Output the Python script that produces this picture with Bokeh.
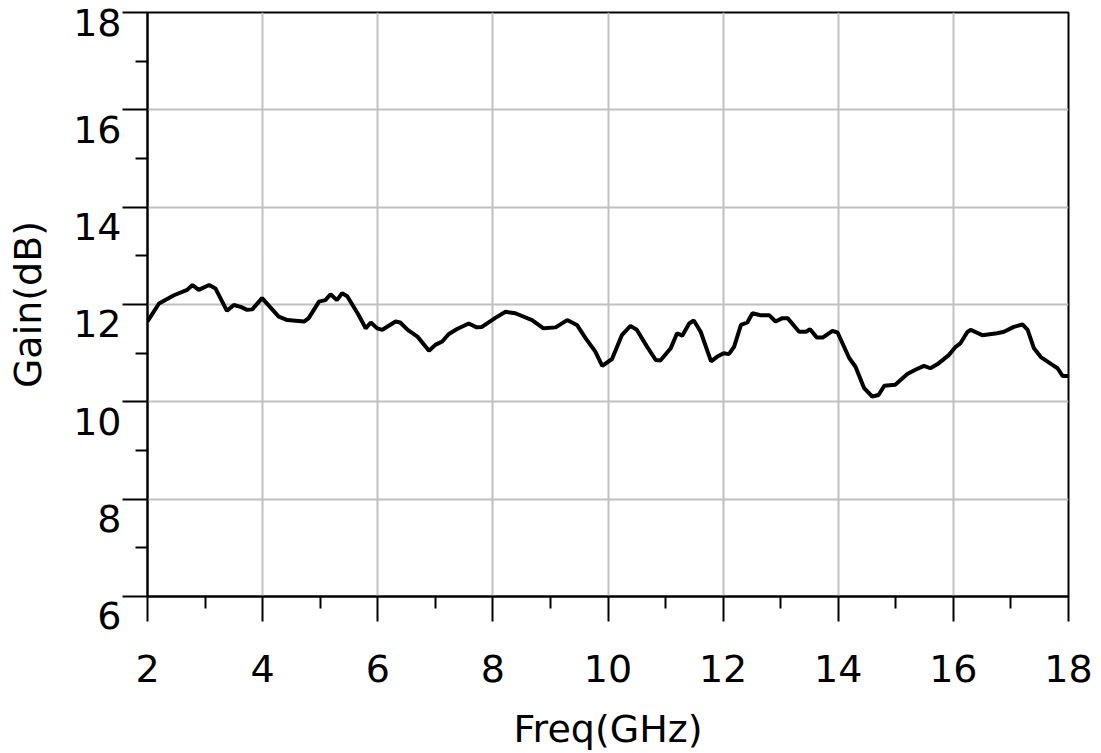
from bokeh.plotting import figure
from bokeh.models import FixedTicker, Range1d
from bokeh.embed import file_html
from bokeh.resources import INLINE

freq = [2.0, 2.2, 2.46, 2.69, 2.78, 2.89, 3.07, 3.18, 3.38, 3.50, 3.62, 3.73, 3.82, 3.99,
        4.28, 4.43, 4.72, 4.80, 4.98, 5.09, 5.18, 5.29, 5.38, 5.47, 5.67, 5.79, 5.88, 5.99,
        6.08, 6.31, 6.39, 6.52, 6.69, 6.89, 7.00, 7.12, 7.23, 7.37, 7.58, 7.72, 7.81, 8.05,
        8.22, 8.39, 8.68, 8.88, 9.09, 9.29, 9.46, 9.61, 9.78, 9.90, 10.07, 10.24, 10.39,
        10.50, 10.68, 10.83, 10.91, 11.09, 11.20, 11.29, 11.41, 11.49, 11.61, 11.79, 11.90,
        12.01, 12.10, 12.19, 12.31, 12.42, 12.51, 12.65, 12.80, 12.91, 13.03, 13.12, 13.32,
        13.44, 13.51, 13.63, 13.73, 13.90, 13.99, 14.19, 14.30, 14.45, 14.59, 14.70, 14.80,
        14.99, 15.20, 15.34, 15.49, 15.60, 15.72, 15.92, 16.04, 16.12, 16.24, 16.30, 16.50,
        16.76, 16.88, 17.05, 17.20, 17.29, 17.40, 17.52, 17.72, 17.81, 17.90, 18.0]
gain = [11.65, 12.02, 12.19, 12.30, 12.40, 12.30, 12.40, 12.33, 11.87, 11.99, 11.95, 11.89, 11.90, 12.13,
        11.75, 11.68, 11.65, 11.72, 12.06, 12.09, 12.21, 12.09, 12.23, 12.17, 11.78, 11.51, 11.63, 11.51,
        11.48, 11.65, 11.63, 11.48, 11.34, 11.05, 11.17, 11.24, 11.39, 11.49, 11.61, 11.53, 11.54, 11.73,
        11.85, 11.82, 11.68, 11.51, 11.53, 11.68, 11.58, 11.31, 11.03, 10.74, 10.88, 11.37, 11.56,
        11.48, 11.13, 10.86, 10.85, 11.10, 11.41, 11.36, 11.61, 11.67, 11.44, 10.83, 10.93,
        11.00, 10.98, 11.13, 11.58, 11.63, 11.82, 11.78, 11.78, 11.65, 11.72, 11.72, 11.44,
        11.44, 11.49, 11.32, 11.32, 11.46, 11.42, 10.90, 10.72, 10.28, 10.11, 10.14, 10.33,
        10.35, 10.57, 10.66, 10.74, 10.69, 10.77, 10.96, 11.13, 11.20, 11.43, 11.48, 11.37,
        11.41, 11.44, 11.54, 11.59, 11.48, 11.10, 10.92, 10.76, 10.69, 10.53, 10.53]

x_ticks = [2, 4, 6, 8, 10, 12, 14, 16, 18]
x_minor = [3, 5, 7, 9, 11, 13, 15, 17]
y_ticks = [6, 8, 10, 12, 14, 16, 18]
y_minor = [7, 9, 11, 13, 15, 17]
y_tick_labels = ["6", "8", "10", "12", "14", "16", "18"]

FONT = "DejaVu Sans"

p = figure(width=1101, height=753, output_backend="svg", toolbar_location=None,
           x_range=Range1d(2, 18), y_range=Range1d(6, 18),
           min_border_left=147, min_border_right=33, min_border_top=12, min_border_bottom=156)

p.outline_line_color = "black"
p.outline_line_width = 2
p.background_fill_color = "white"
p.border_fill_color = "white"

for ax in (p.xaxis[0], p.yaxis[0]):
    ax.axis_line_width = 2
    ax.axis_line_color = "black"
    ax.major_tick_line_width = 2
    ax.minor_tick_line_width = 2
    ax.major_tick_out = 25
    ax.major_tick_in = 0
    ax.minor_tick_out = 12
    ax.minor_tick_in = 0
    ax.axis_label_text_font = FONT
    ax.axis_label_text_font_style = "normal"
    ax.axis_label_text_font_size = "38px"
    ax.axis_label_text_color = "black"
    ax.major_label_text_font = FONT
    ax.major_label_text_font_size = "38px"
    ax.major_label_text_color = "black"

p.xaxis[0].ticker = FixedTicker(ticks=x_ticks, minor_ticks=x_minor)
p.yaxis[0].ticker = FixedTicker(ticks=y_ticks, minor_ticks=y_minor)
p.xaxis[0].major_label_standoff = 33
p.xaxis[0].axis_label = "Freq(GHz)"
p.xaxis[0].axis_label_standoff = 22

# tick labels sit a little below their ticks, as in the reference
overrides = {v: "\n" + t for v, t in zip(y_ticks, y_tick_labels)}
overrides[y_ticks[-1]] = y_tick_labels[-1]
p.yaxis[0].major_label_overrides = overrides
p.yaxis[0].major_label_text_line_height = 0.9
p.yaxis[0].major_label_standoff = 1
p.yaxis[0].axis_label = "Gain(dB)"
p.yaxis[0].axis_label_standoff = 20

p.xgrid.ticker = FixedTicker(ticks=x_ticks)
p.ygrid.ticker = FixedTicker(ticks=y_ticks)
p.grid.grid_line_color = "#c0c0c0"
p.grid.grid_line_width = 2

p.line(freq, gain, line_color="black", line_width=4)

open("out.html", "w").write(file_html(p, INLINE))
